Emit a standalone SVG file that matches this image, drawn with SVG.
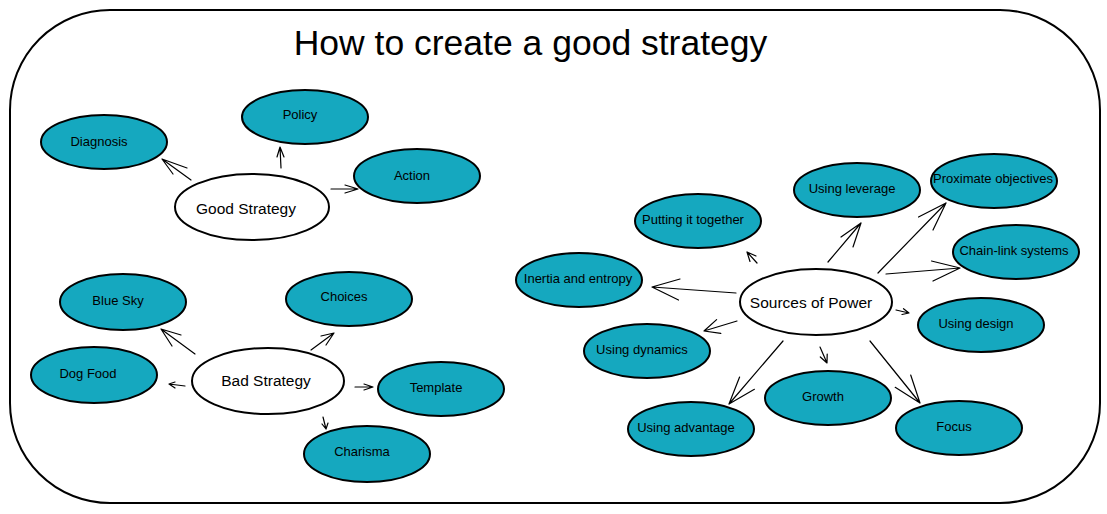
<svg xmlns="http://www.w3.org/2000/svg" width="1107" height="514" viewBox="0 0 1107 514">
<style>
.frame{fill:#fff;stroke:#000;stroke-width:2}
.n ellipse{fill:#15a8bf;stroke:#000;stroke-width:2}
.h ellipse{fill:#fff;stroke:#000;stroke-width:2}
text{font-family:"Liberation Sans",Arial,sans-serif;fill:#000;text-anchor:middle;dominant-baseline:central}
.n text{font-size:13px}
.h text{font-size:15.5px}
.title{font-size:35.5px;dominant-baseline:auto}
#connectors path{fill:none;stroke:#000;stroke-width:1.2;stroke-linecap:round;stroke-linejoin:round}
</style>
<rect class="frame" x="10" y="10" width="1090" height="493" rx="100" ry="100"/>
<text class="title" x="530.5" y="55">How to create a good strategy</text>
<g id="connectors">
<!-- Good Strategy -->
<path d="M191,180 L162,159 M173,174 L162,159 L187,168"/>
<path d="M281,168 L280,147 M277,157 L280,147 L284,157"/>
<path d="M331,189 L358,189 M345,185 L358,189 L345,193"/>
<!-- Bad Strategy -->
<path d="M195,354 L161,329 M172,346 L161,329 L181,335"/>
<path d="M311,350 L334,333 M321,336 L334,333 L326,345"/>
<path d="M185,386 L169,384 M175,382 L169,384 L175,388"/>
<path d="M355,387 L373,387 M364,384 L373,387 L364,390"/>
<path d="M323,417 L326,429 M322,424 L326,429 L328,423"/>
<!-- Sources of Power -->
<path d="M757,263 L747,252 M750,261.5 L747,252 L756,256"/>
<path d="M828,262 L861,223 M841,237 L861,223 L853,247"/>
<path d="M878,273 L946,203 M918.5,217 L946,203 L933,230"/>
<path d="M886,274 L960,268 M931.5,261 L960,268 L933,281"/>
<path d="M736,293 L652,287 M680,279 L652,287 L678.5,300"/>
<path d="M896,310 L909,313 M903.5,308.7 L909,313 L902,314.5"/>
<path d="M737,321 L704,331 M716.6,319.6 L704,331 L720.8,333.4"/>
<path d="M820,347 L827,363 M827.2,354 L827,363 L820.3,357"/>
<path d="M783,341 L729,404 M739.6,377 L729,404 L754.4,389.3"/>
<path d="M870,341 L920,403 M910.7,375 L920,403 L895.2,387.3"/>
</g>
<g id="good-strategy" class="h"><ellipse cx="252" cy="207" rx="77" ry="33"/><text x="246" y="208">Good Strategy</text></g>
<g id="diagnosis" class="n"><ellipse cx="104" cy="142" rx="63" ry="27"/><text x="99" y="141">Diagnosis</text></g>
<g id="policy" class="n"><ellipse cx="305" cy="117" rx="63" ry="27"/><text x="300" y="114">Policy</text></g>
<g id="action" class="n"><ellipse cx="417" cy="176" rx="63" ry="27"/><text x="412" y="175">Action</text></g>
<g id="bad-strategy" class="h"><ellipse cx="268" cy="381" rx="76" ry="33"/><text x="266" y="380">Bad Strategy</text></g>
<g id="blue-sky" class="n"><ellipse cx="123" cy="302" rx="63" ry="28"/><text x="118" y="300">Blue Sky</text></g>
<g id="choices" class="n"><ellipse cx="349" cy="299" rx="63" ry="27"/><text x="344" y="296">Choices</text></g>
<g id="dog-food" class="n"><ellipse cx="94" cy="375" rx="63" ry="28"/><text x="88" y="373">Dog Food</text></g>
<g id="template" class="n"><ellipse cx="441" cy="389" rx="63" ry="27"/><text x="436" y="387">Template</text></g>
<g id="charisma" class="n"><ellipse cx="367" cy="454" rx="63" ry="28"/><text x="362" y="451">Charisma</text></g>
<g id="sources-of-power" class="h"><ellipse cx="816" cy="302" rx="76" ry="33"/><text x="811" y="302">Sources of Power</text></g>
<g id="putting-it-together" class="n"><ellipse cx="698" cy="221" rx="63" ry="27"/><text x="693" y="219">Putting it together</text></g>
<g id="using-leverage" class="n"><ellipse cx="857" cy="190" rx="63" ry="27"/><text x="852" y="188">Using leverage</text></g>
<g id="proximate-objectives" class="n"><ellipse cx="994" cy="181" rx="63" ry="27"/><text x="993" y="178">Proximate objectives</text></g>
<g id="chain-link-systems" class="n"><ellipse cx="1016" cy="252" rx="63" ry="27"/><text x="1014" y="250">Chain-link systems</text></g>
<g id="inertia-and-entropy" class="n"><ellipse cx="579" cy="280" rx="63" ry="27"/><text x="578" y="278">Inertia and entropy</text></g>
<g id="using-design" class="n"><ellipse cx="981" cy="325" rx="63" ry="27"/><text x="976" y="323">Using design</text></g>
<g id="using-dynamics" class="n"><ellipse cx="647" cy="351" rx="63" ry="27"/><text x="642" y="349">Using dynamics</text></g>
<g id="growth" class="n"><ellipse cx="828" cy="398" rx="63" ry="27"/><text x="823" y="396">Growth</text></g>
<g id="using-advantage" class="n"><ellipse cx="691" cy="429" rx="63" ry="27"/><text x="686" y="427">Using advantage</text></g>
<g id="focus" class="n"><ellipse cx="959" cy="428" rx="63" ry="27"/><text x="954" y="426">Focus</text></g>
</svg>
